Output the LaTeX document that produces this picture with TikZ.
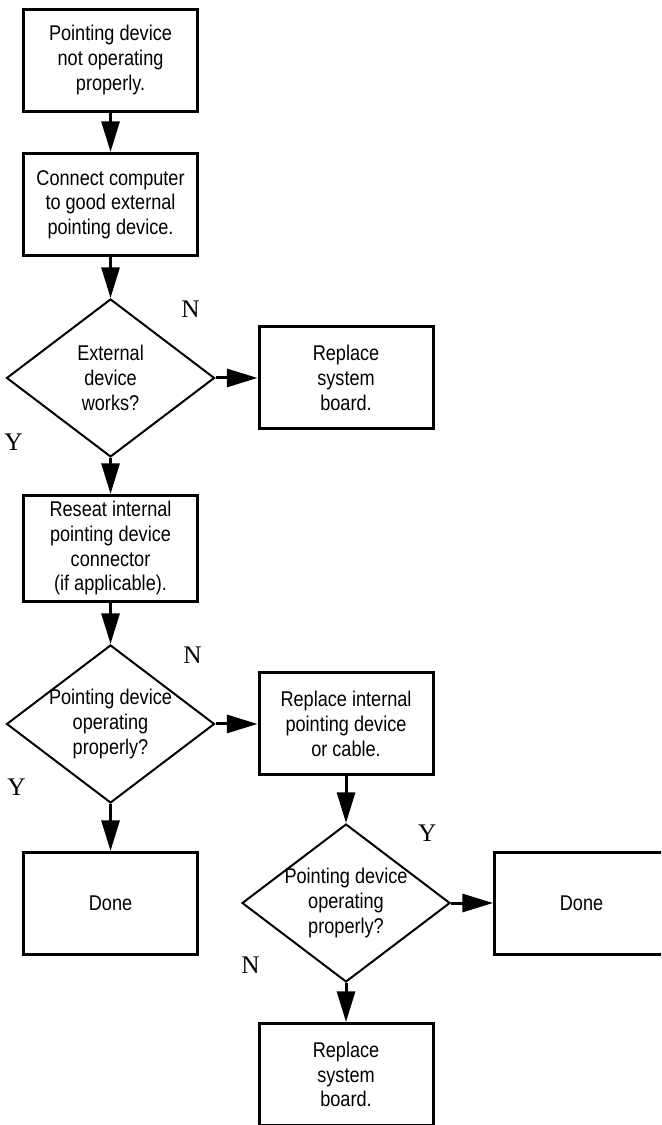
\documentclass[tikz,border=0pt]{standalone}
\usepackage{fontspec}
\setmainfont{Liberation Sans}[FakeStretch=0.85]
\newfontfamily\ynfont{Liberation Serif}
\usetikzlibrary{shapes.geometric,arrows.meta,positioning}

\begin{document}
\begin{tikzpicture}[
  font=\fontsize{16pt}{18.5pt}\selectfont,
  >={Triangle[length=23pt,width=13.5pt]},
  stepbox/.style={rectangle, draw, line width=2.25pt, minimum width=130.5pt,
                  minimum height=76.5pt, align=center, inner sep=3pt},
  dec/.style={diamond, draw, line width=1.5pt, aspect=1.3, inner sep=-12pt,
              minimum width=156pt, minimum height=118.5pt, align=center},
  link/.style={->, line width=2.25pt},
  yn/.style={font=\ynfont\fontsize{19pt}{19pt}\selectfont, inner sep=0pt},
]

\clip (0,0) rectangle (495.75pt,-843.75pt);

\node[stepbox] (start) at (82.9pt,-45pt) {Pointing device\\not operating\\properly.};
\node[stepbox, below=29.6pt of start]  (extdev) {Connect computer\\to good external\\pointing device.};
\node[dec, below=30.75pt of extdev]    (works)  {External\\device\\works?};
\node[stepbox, right=31.5pt of works]  (sysa)   {Replace\\system\\board.};
\node[stepbox, minimum height=79.5pt, below=27pt of works] (reseat) {Reseat internal\\pointing device\\connector\\(if applicable).};
\node[dec, below=30.75pt of reseat]    (oka)    {Pointing device\\operating\\properly?};
\node[stepbox, right=31.5pt of oka]    (repint) {Replace internal\\pointing device\\or cable.};
\node[stepbox, below=35.25pt of oka]   (donea)  {Done};
\node[dec, below=34.9pt of repint]     (okb)    {Pointing device\\operating\\properly?};
\node[stepbox, right=31.5pt of okb]    (doneb)  {Done};
\node[stepbox, below=29.25pt of okb]   (sysb)   {Replace\\system\\board.};

% yes / no marks
\node[yn] (worksn) at ([shift={(60pt,51.75pt)}]works.center)   {N};
\node[yn] (worksy) at ([shift={(-72.75pt,-48pt)}]works.center) {Y};
\node[yn] (okan)   at ([shift={(61.5pt,51.75pt)}]oka.center)   {N};
\node[yn] (okay)   at ([shift={(-70.5pt,-47.25pt)}]oka.center) {Y};
\node[yn] (okby)   at ([shift={(61pt,52.5pt)}]okb.center)      {Y};
\node[yn] (okbn)   at ([shift={(-71.6pt,-46.5pt)}]okb.center)  {N};

\draw[link] (start) -- (extdev);
\draw[link] (extdev) -- (works);
\draw[link] (works) -- (sysa);
\draw[link] (works) -- (reseat);
\draw[link] (reseat) -- (oka);
\draw[link] (oka) -- (repint);
\draw[link] (oka) -- (donea);
\draw[link] (repint) -- (okb);
\draw[link] (okb) -- (doneb);
\draw[link] (okb) -- (sysb);

\end{tikzpicture}
\end{document}
